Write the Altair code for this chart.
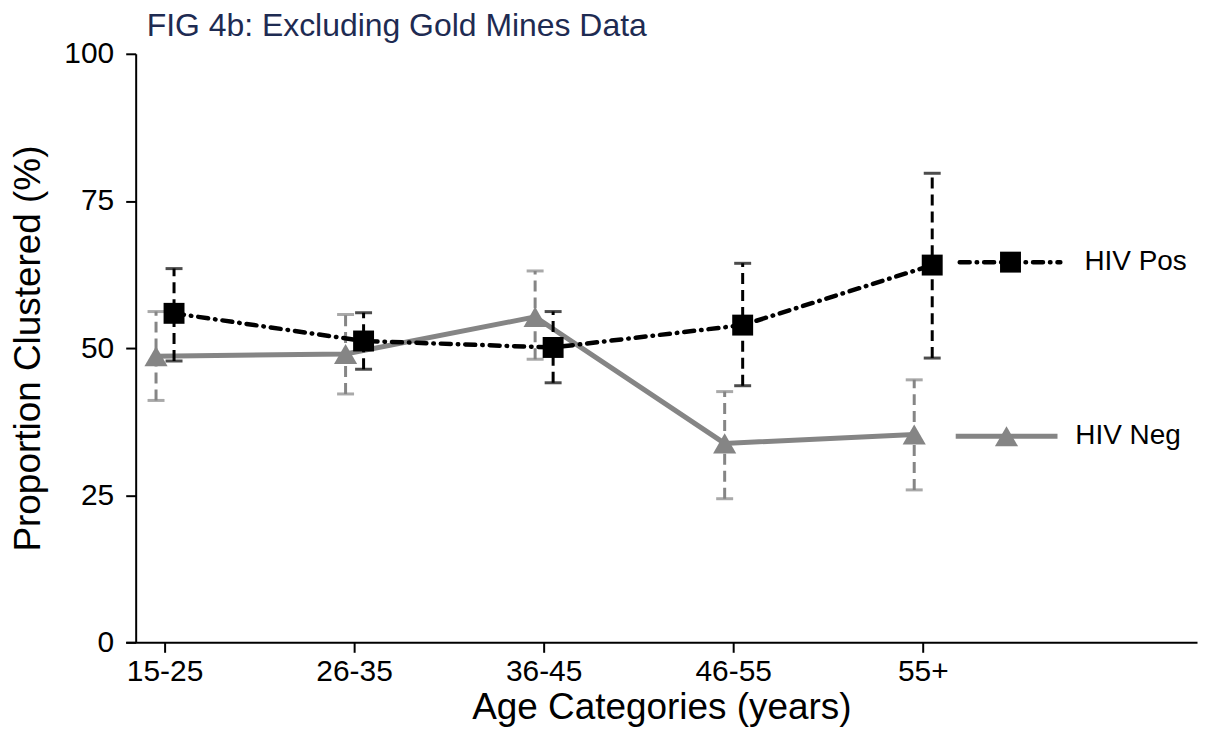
import json
import altair as alt
import pandas as pd

# ---------------- data ----------------
title_text = ["FIG 4b: Excluding Gold Mines Data"]
categories = ["15-25", "26-35", "36-45", "46-55", "55+"]
series = ["HIV Pos", "HIV Neg"]

pos_mean = [55.9, 51.2, 50.1, 53.9, 64.1]
pos_low = [47.8, 46.4, 44.1, 43.6, 48.3]
pos_high = [63.5, 56.0, 56.2, 64.4, 79.7]

neg_mean = [48.6, 49.0, 55.3, 33.8, 35.3]
neg_low = [41.1, 42.2, 48.1, 24.4, 25.9]
neg_high = [56.2, 55.7, 63.1, 42.6, 44.6]

# label (in-plot legend) heights
label_y = [64.6, 35.0]

# ---------------- layout / style ----------------
FONT = "Liberation Sans"
GRAY = "#858585"
BLACK = "#000000"
dodge = {"HIV Pos": 0.05, "HIV Neg": -0.045}

rows = []
for s, m, lo, hi in [("HIV Pos", pos_mean, pos_low, pos_high),
                     ("HIV Neg", neg_mean, neg_low, neg_high)]:
    for i, c in enumerate(categories):
        rows.append({"series": s, "cat": c, "x": i + 1 + dodge[s],
                     "mean": m[i], "low": lo[i], "high": hi[i]})
df = pd.DataFrame(rows)
pos = df[df.series == "HIV Pos"]
neg = df[df.series == "HIV Neg"]

leg_rows = []
for s, ly, x0, x1, xm, xt in [("HIV Pos", label_y[0], 5.195, 5.726, 5.463, 5.853),
                              ("HIV Neg", label_y[1], 5.174, 5.711, 5.442, 5.805)]:
    leg_rows.append({"series": s, "y": ly, "x0": x0, "x1": x1, "xm": xm, "xt": xt})
leg = pd.DataFrame(leg_rows)
leg_line = pd.concat([
    pd.DataFrame({"series": leg.series, "y": leg.y, "x": leg.x0}),
    pd.DataFrame({"series": leg.series, "y": leg.y, "x": leg.x1}),
])

xscale = alt.Scale(domain=[0.795, 6.447], nice=False, zero=False)
yscale = alt.Scale(domain=[0, 100], nice=False)

label_expr = json.dumps(categories) + "[datum.value - 1]"
xaxis = alt.Axis(values=[1, 2, 3, 4, 5], labelExpr=label_expr,
                 title="Age Categories (years)", titlePadding=3,
                 labelPadding=4, labelFlush=False, labelOverlap=False)
yaxis = alt.Axis(values=[0, 25, 50, 75, 100], title="Proportion Clustered (%)",
                 offset=-10, labelPadding=12, titlePadding=16, labelFlush=False)

X = alt.X("x:Q", scale=xscale, axis=xaxis)

def Y(field):
    return alt.Y(field, type="quantitative", scale=yscale, axis=yaxis)

# Neg layers
neg_err = alt.Chart(neg).mark_rule(color=GRAY, strokeWidth=3, strokeDash=[11, 6]).encode(
    x=X, y=Y("low"), y2="high")
neg_caps_lo = alt.Chart(neg).mark_tick(color=GRAY, orient="horizontal", size=17, thickness=3).encode(
    x=X, y=Y("low"))
neg_caps_hi = alt.Chart(neg).mark_tick(color=GRAY, orient="horizontal", size=17, thickness=3).encode(
    x=X, y=Y("high"))
neg_line = alt.Chart(neg).mark_line(color=GRAY, strokeWidth=5).encode(
    x=X, y=Y("mean"), order="x:Q")
neg_pts = alt.Chart(neg).mark_point(shape="triangle-up", filled=True, color=GRAY, opacity=1,
                                    size=540).encode(x=X, y=Y("mean"))

# Pos layers
pos_err = alt.Chart(pos).mark_rule(color=BLACK, strokeWidth=3, strokeDash=[11, 6]).encode(
    x=X, y=Y("low"), y2="high")
pos_caps_lo = alt.Chart(pos).mark_tick(color=BLACK, orient="horizontal", size=17, thickness=3).encode(
    x=X, y=Y("low"))
pos_caps_hi = alt.Chart(pos).mark_tick(color=BLACK, orient="horizontal", size=17, thickness=3).encode(
    x=X, y=Y("high"))
pos_line = alt.Chart(pos).mark_line(color=BLACK, strokeWidth=4.5, strokeDash=[10, 7, 0.5, 7],
                                    strokeCap="round").encode(x=X, y=Y("mean"), order="x:Q")
pos_pts = alt.Chart(pos).mark_point(shape="square", filled=True, color=BLACK, opacity=1,
                                    size=440).encode(x=X, y=Y("mean"))

# in-plot legend
leg_pos_line = alt.Chart(leg_line[leg_line.series == "HIV Pos"]).mark_line(
    color=BLACK, strokeWidth=4.5, strokeDash=[10, 7, 0.5, 7], strokeCap="round").encode(
    x=X, y=Y("y"))
leg_neg_line = alt.Chart(leg_line[leg_line.series == "HIV Neg"]).mark_line(
    color=GRAY, strokeWidth=5).encode(x=X, y=Y("y"))
leg_pos_pt = alt.Chart(leg[leg.series == "HIV Pos"]).mark_point(
    shape="square", filled=True, color=BLACK, opacity=1, size=440).encode(
    x=alt.X("xm:Q", scale=xscale, axis=xaxis), y=Y("y"))
leg_neg_pt = alt.Chart(leg[leg.series == "HIV Neg"]).mark_point(
    shape="triangle-up", filled=True, color=GRAY, opacity=1, size=540).encode(
    x=alt.X("xm:Q", scale=xscale, axis=xaxis), y=Y("y"))
leg_text = alt.Chart(leg).mark_text(align="left", baseline="middle", font=FONT,
                                    fontSize=28, color=BLACK).encode(
    x=alt.X("xt:Q", scale=xscale, axis=xaxis), y=Y("y"), text="series:N")

title = alt.Chart(pd.DataFrame({"t": title_text})).mark_text(
    align="left", baseline="alphabetic", font=FONT, fontSize=32, color="#1E2B52").encode(
    x=alt.value(21), y=alt.value(-18), text="t:N")

chart = alt.layer(
    neg_err, neg_caps_lo, neg_caps_hi, neg_line, neg_pts,
    pos_err, pos_caps_lo, pos_caps_hi, pos_line, pos_pts,
    leg_pos_line, leg_neg_line, leg_pos_pt, leg_neg_pt, leg_text, title,
).properties(
    width=1074, height=590,
    autosize=alt.AutoSizeParams(type="none"),
    padding={"left": 118, "top": 45, "right": 5, "bottom": 90},
).configure_view(stroke=None).configure_axis(
    grid=False, domainColor=BLACK, domainWidth=2, tickColor=BLACK, tickWidth=2,
    tickSize=10, labelFont=FONT, labelFontSize=30, labelColor=BLACK,
    titleFont=FONT, titleFontSize=37, titleFontWeight="normal", titleColor=BLACK,
)

chart.save("out.html", embed_options={"renderer": "svg", "actions": False})
